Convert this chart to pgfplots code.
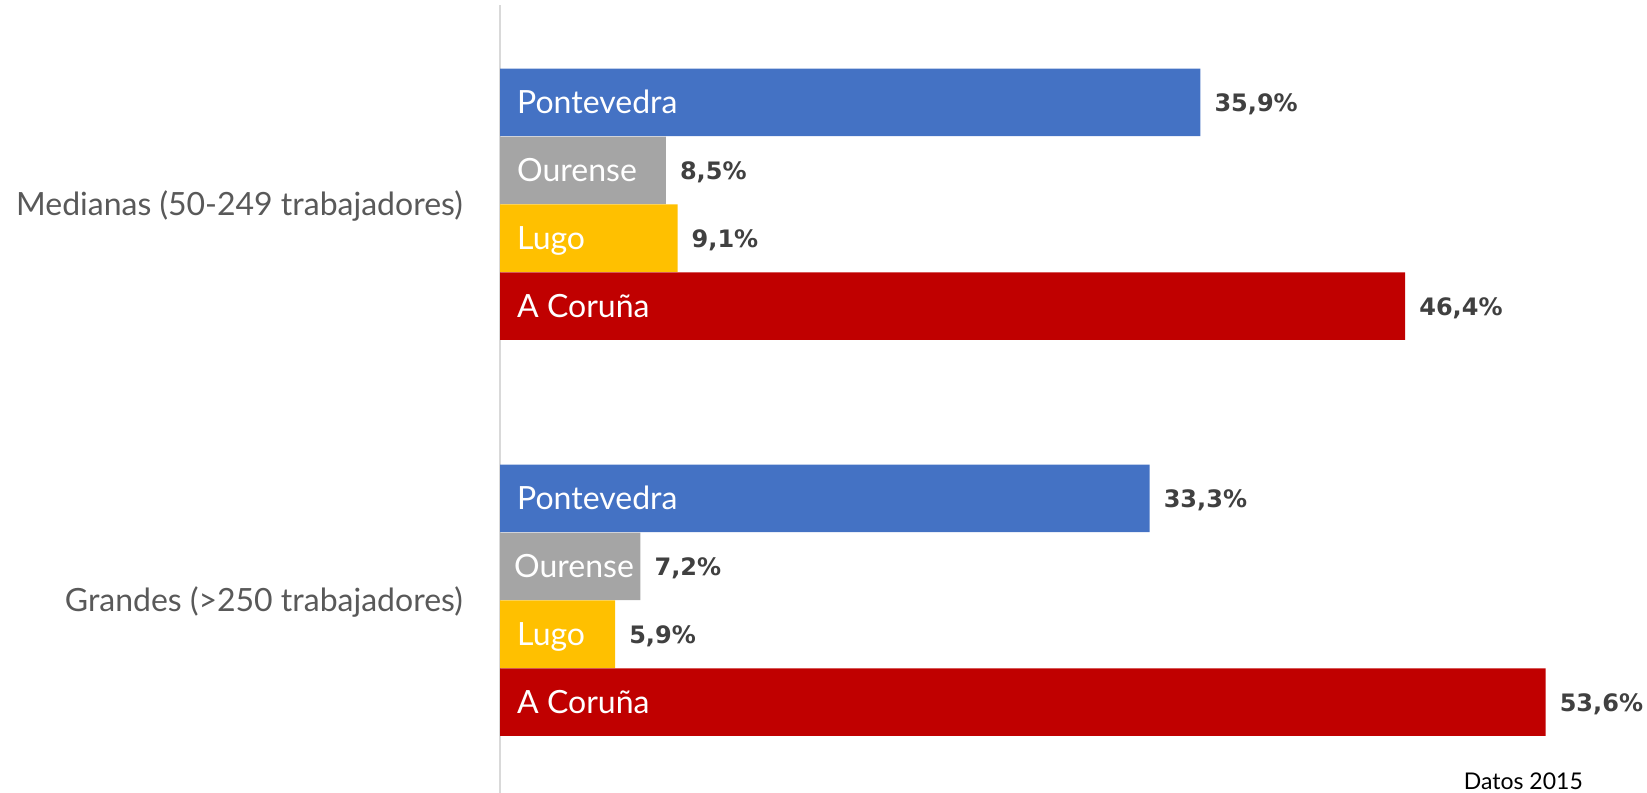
\documentclass[border=0pt]{standalone}
\usepackage{fontspec}
\setmainfont{Lato}
\newfontfamily\valfont{DejaVu Sans}
\usepackage{pgfplots}
\pgfplotsset{compat=1.18}
\definecolor{cPon}{HTML}{4472C4}
\definecolor{cOur}{HTML}{A5A5A5}
\definecolor{cLug}{HTML}{FFC000}
\definecolor{cCor}{HTML}{C00000}
\definecolor{cAx}{HTML}{D9D9D9}
\definecolor{cCat}{HTML}{595959}
\definecolor{cVal}{HTML}{404040}
\begin{document}
\begin{tikzpicture}
\path[use as bounding box] (0,0) rectangle (1647bp,793bp);
\begin{axis}[
  at={(500bp,0bp)}, anchor=south west, scale only axis,
  width=1147bp, height=788bp,
  xmin=0, xmax=58.8, ymin=-0.4866, ymax=1.5033,
  xbar, bar width=0.1705,
  axis x line=none, axis y line*=left,
  y axis line style={draw=cAx, line width=2bp},
  ytick={0,1},
  yticklabels={Grandes (>250 trabajadores), Medianas (50-249 trabajadores)},
  ytick style={draw=none}, major tick length=0pt,
  yticklabel style={font=\fontsize{32bp}{38bp}\selectfont, text=cCat, anchor=east,
    inner sep=0pt, text height=23bp, text depth=0pt, xshift=-37bp},
  clip=false,
  point meta=x,
  /pgf/number format/assume math mode=true,
  nodes near coords={\pgfmathprintnumber[fixed,fixed zerofill,precision=1,use comma,assume math mode=true]{\pgfplotspointmeta}\%},
  every node near coord/.append style={font=\valfont\bfseries\fontsize{24bp}{30bp}\selectfont,
    text=cVal, anchor=west, xshift=14bp, inner sep=0pt, text height=18bp, text depth=0pt},
]
\addplot[fill=cPon, draw=none, bar shift=0.2572] coordinates {(33.3,0) (35.9,1)};
\addplot[fill=cOur, draw=none, bar shift=0.0857] coordinates {(7.2,0) (8.5,1)};
\addplot[fill=cLug, draw=none, bar shift=-0.0857] coordinates {(5.9,0) (9.1,1)};
\addplot[fill=cCor, draw=none, bar shift=-0.2572] coordinates {(53.6,0) (46.4,1)};
\tikzset{inlab/.style={anchor=west, text=white, inner sep=0pt, xshift=17bp,
  font=\fontsize{32bp}{38bp}\selectfont, text height=23bp, text depth=0pt}}
\node[inlab] at (axis cs:0,1.2572) {Pontevedra};
\node[inlab] at (axis cs:0,1.0857) {Ourense};
\node[inlab] at (axis cs:0,0.9143) {Lugo};
\node[inlab] at (axis cs:0,0.7428) {A Coruña};
\node[inlab] at (axis cs:0,0.2572) {Pontevedra};
\node[inlab, xshift=-3bp] at (axis cs:0,0.0857) {Ourense};
\node[inlab] at (axis cs:0,-0.0857) {Lugo};
\node[inlab] at (axis cs:0,-0.2572) {A Coruña};
\end{axis}
\node[anchor=base east, inner sep=0pt, font=\fontsize{23bp}{27bp}\selectfont] at (1583bp,4bp) {Datos 2015};
\end{tikzpicture}
\end{document}
